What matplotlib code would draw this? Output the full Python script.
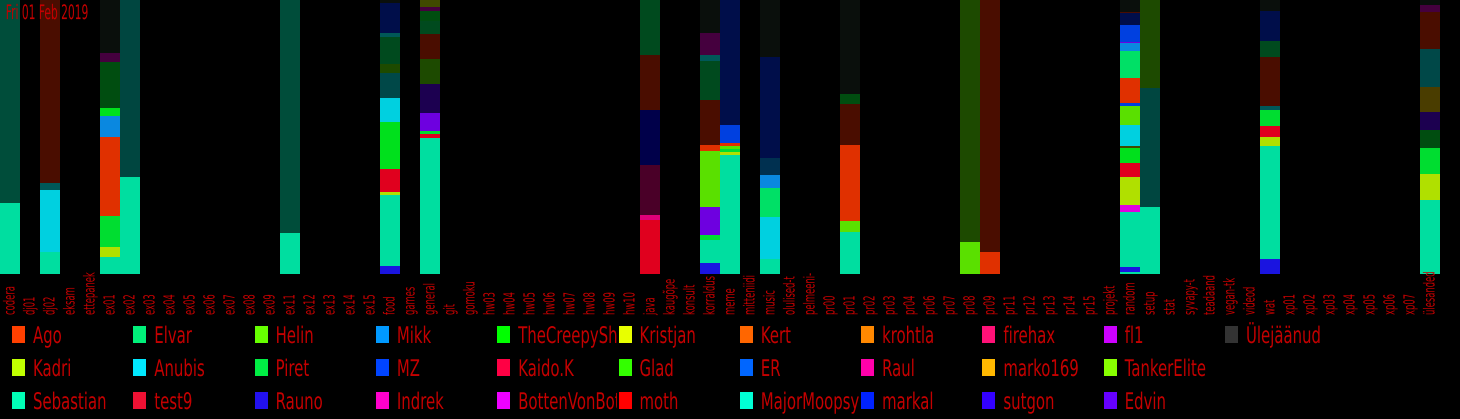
import matplotlib
matplotlib.use('Agg')
import matplotlib.pyplot as plt
import matplotlib.patheffects as pe
from matplotlib.patches import Rectangle
from matplotlib.transforms import Affine2D, Bbox

# ================ Data ================
channels = ['codera', 'dj01', 'dj02', 'eksam', 'ettepanek', 'ex01', 'ex02', 'ex03', 'ex04', 'ex05',
            'ex06', 'ex07', 'ex08', 'ex09', 'ex11', 'ex12', 'ex13', 'ex14', 'ex15', 'food',
            'games', 'general', 'git', 'gomoku', 'hw03', 'hw04', 'hw05', 'hw06', 'hw07', 'hw08',
            'hw09', 'hw10', 'java', 'kaugõpe', 'konsult', 'korraldus', 'meme', 'mitteniidi', 'music',
            'olulised-t', 'pelmeeni-', 'pr00', 'pr01', 'pr02', 'pr03', 'pr04', 'pr06', 'pr07', 'pr08',
            'pr09', 'pr11', 'pr12', 'pr13', 'pr14', 'pr15', 'projekt', 'random', 'setup', 'stat',
            'syvapy-t', 'teadaand', 'vegan-tk', 'videod', 'wat', 'xp01', 'xp02', 'xp03', 'xp04',
            'xp05', 'xp06', 'xp07', 'ülesanded']

# share of messages per channel (%), bottom -> top
shares = {
    'codera':    [25.9, 74.1],
    'dj02':      [8.0, 22.6, 2.6, 66.8],
    'ex01':      [6.2, 3.6, 11.3, 28.8, 7.7, 2.9, 16.8, 3.3, 19.4],
    'ex02':      [35.4, 64.6],
    'ex11':      [15.0, 85.0],
    'food':      [2.9, 25.9, 1.1, 8.4, 17.2, 8.8, 9.1, 3.3, 9.9, 1.5, 10.9, 1.0],
    'general':   [49.6, 1.5, 1.1, 6.6, 10.6, 9.1, 9.1, 4.7, 3.6, 1.5, 2.6],
    'java':      [19.7, 1.8, 18.2, 20.1, 20.1, 20.1],
    'korraldus': [4.0, 8.4, 1.8, 10.2, 20.4, 2.2, 16.4, 14.2, 2.2, 8.0, 12.2],
    'meme':      [43.4, 1.1, 1.1, 1.1, 1.1, 6.6, 45.6],
    'music':     [5.5, 15.3, 10.6, 4.7, 6.2, 36.9, 20.8],
    'pr01':      [15.3, 4.0, 27.7, 15.0, 3.6, 34.4],
    'pr08':      [11.7, 88.3],
    'pr09':      [8.0, 92.0],
    'random':    [0.7, 1.8, 20.1, 2.6, 10.2, 5.1, 5.5, 0.7, 7.7, 6.9, 1.1, 9.1, 9.9, 2.9, 0.4, 6.2, 4.4, 0.4, 4.3],
    'setup':     [24.5, 43.4, 32.1],
    'wat':       [5.5, 41.2, 3.3, 4.0, 5.8, 1.5, 17.9, 5.8, 10.9, 4.1],
    'ülesanded': [27.0, 9.5, 9.5, 6.6, 6.6, 9.1, 13.9, 13.5, 2.6, 1.7],
}
seg_keys = {
    'codera':    ['teal', 'dkgreen'],
    'dj02':      ['teal', 'cyan', 'dkteal', 'maroon'],
    'ex01':      ['teal', 'yg', 'green2', 'orange', 'blue', 'green', 'dkgreen2', 'dkpurple', 'nearblack'],
    'ex02':      ['teal', 'dkteal2'],
    'ex11':      ['teal', 'dkgreen'],
    'food':      ['rauno', 'teal', 'yg', 'red', 'green', 'cyan', 'dkteal3', 'olivegreen', 'dkgreen3',
                  'dkteal', 'navy', 'nearblack'],
    'general':   ['teal', 'red', 'green2', 'purple', 'indigo', 'olivegreen', 'maroon', 'dkgreen3',
                  'dkgreen2', 'dkpurple', 'olive2'],
    'java':      ['red', 'pink', 'wine', 'navy2', 'maroon', 'dkgreen3'],
    'korraldus': ['rauno', 'teal', 'green2', 'purple', 'lgreen', 'orange', 'maroon', 'dkgreen3',
                  'dkteal', 'dkpurple', 'nearblack'],
    'meme':      ['teal', 'yg', 'green2', 'lgreen', 'orange', 'blue2', 'navy'],
    'music':     ['teal', 'cyan', 'mgreen', 'blue', 'dtnavy', 'navy', 'nearblack'],
    'pr01':      ['teal', 'lgreen', 'orange', 'maroon', 'dkgreen2', 'nearblack'],
    'pr08':      ['lgreen', 'olivegreen'],
    'pr09':      ['orange', 'maroon'],
    'random':    ['teal', 'rauno', 'teal', 'magenta', 'yg', 'red', 'green', 'olive2', 'cyan', 'lgreen',
                  'blue2', 'orange', 'mgreen', 'blue', 'purple', 'blue2', 'navy', 'maroon', 'nearblack'],
    'setup':     ['teal', 'dkteal2', 'olivegreen'],
    'wat':       ['rauno', 'teal', 'yg', 'red', 'green2', 'dkteal', 'maroon', 'dkgreen3', 'navy', 'nearblack'],
    'ülesanded': ['teal', 'yg', 'green2', 'dkgreen2', 'indigo', 'olive', 'dkteal3', 'maroon', 'dkpurple',
                  'nearblack'],
}
palette = {
    'teal': '#00dea0', 'dkgreen': '#004d3a', 'dkgreen2': '#004d10', 'dkgreen3': '#004a1e',
    'cyan': '#00d0e0', 'dkteal': '#005858', 'dkteal2': '#004640', 'dkteal3': '#004848',
    'maroon': '#4a0d00', 'nearblack': '#0a0f0c', 'dkpurple': '#45003e', 'green': '#00e01c',
    'green2': '#00dd30', 'blue': '#0a88e0', 'orange': '#e03000', 'yg': '#b0e000',
    'navy': '#000e4a', 'navy2': '#00004a', 'olivegreen': '#1d4a00', 'olive': '#4a3d00',
    'olive2': '#404a00', 'red': '#e0001e', 'rauno': '#1a14e0', 'purple': '#6e00e0',
    'indigo': '#1c0050', 'pink': '#e0007a', 'wine': '#4a0028', 'lgreen': '#5ae000',
    'blue2': '#0040e0', 'mgreen': '#00e066', 'dtnavy': '#003050', 'magenta': '#e000e0',
}

users = ['Ago', 'Kadri', 'Sebastian', 'Elvar', 'Anubis', 'test9', 'Helin', 'Piret', 'Rauno',
         'Mikk', 'MZ', 'Indrek', 'TheCreepySh', 'Kaido.K', 'BottenVonBot', 'Kristjan', 'Glad', 'moth',
         'Kert', 'ER', 'MajorMoopsy', 'krohtla', 'Raul', 'markal', 'firehax', 'marko169', 'sutgon',
         'fl1', 'TankerElite', 'Edvin', 'Ülejäänud']
user_colors = ['#ff4000', '#c0ff00', '#00ffb6', '#00f07a', '#00e8ff', '#ee1133', '#66ff00', '#00ee44',
               '#2211ee', '#0099ff', '#0044ff', '#ff00cc', '#00ff00', '#ff0044', '#ee00ff', '#e8ff00',
               '#33ff00', '#ff0000', '#ff6600', '#0066ff', '#00ffd5', '#ff8800', '#ff00aa', '#0022ff',
               '#ff1177', '#ffb800', '#3300ff', '#cc00ff', '#88ff00', '#6600ff', '#333333']
date_label = 'Fri 01 Feb 2019'

TXT = '#c40000'
W, H = 1460, 419


class Squeeze(pe.AbstractPathEffect):
    """condense glyphs along the baseline (narrow display font look)"""
    def __init__(self, sx=0.6):
        super().__init__()
        self.sx = sx

    def draw_path(self, renderer, gc, tpath, affine, rgbFace=None):
        t = Affine2D().scale(self.sx, 1) + affine
        renderer.draw_path(gc, tpath, t, rgbFace)


# ================ Plot ================
fig = plt.figure(figsize=(W / 100, H / 100), dpi=100, facecolor='black')
ax = fig.add_axes([0, (H - 274) / H, 1440 / W, 274 / H])
ax.set_facecolor('black')
for s in ax.spines.values():
    s.set_visible(False)

for i, ch in enumerate(channels):
    if ch not in shares:
        continue
    b = 0.
    for v, k in zip(shares[ch], seg_keys[ch]):
        ax.bar(i, v, bottom=b, width=1.0, color=palette[k], linewidth=0)
        b += v

ax.set_xlim(-0.5, len(channels) - 0.5)
ax.set_ylim(0, 100)
ax.set_yticks([])
ax.set_xticks(range(len(channels)), channels, rotation=90, va='bottom', ha='center',
              fontsize=11, color=TXT)
ax.tick_params(axis='x', length=0, pad=29.5)
for lab in ax.get_xticklabels():
    lab.set_path_effects([Squeeze(0.55)])

ax.text(0.004, 0.985, date_label, transform=ax.transAxes, ha='left', va='top', zorder=10,
        fontsize=14.5, color=TXT, path_effects=[Squeeze(0.53)])

# legend: 3 rows, filled column by column, names clipped at the next column
col_x = [12 + 121.3 * c for c in range(11)]
row_y = [326, 359, 392]
for j, (u, c) in enumerate(zip(users, user_colors)):
    cx = col_x[j // 3]; ry = row_y[j % 3]
    fig.add_artist(Rectangle((cx / W, 1 - (ry + 17) / H), 13 / W, 17 / H,
                             transform=fig.transFigure, color=c, lw=0))
    t = fig.text((cx + 21) / W, 1 - (ry + 17) / H, u, ha='left', va='baseline',
                 fontsize=16.5, color=TXT, path_effects=[Squeeze(0.65)])
    t.set_clip_box(Bbox.from_extents(cx, 0, cx + 120, H))
    t.set_clip_on(True)

fig.savefig('out.png', dpi=100, facecolor='black')
